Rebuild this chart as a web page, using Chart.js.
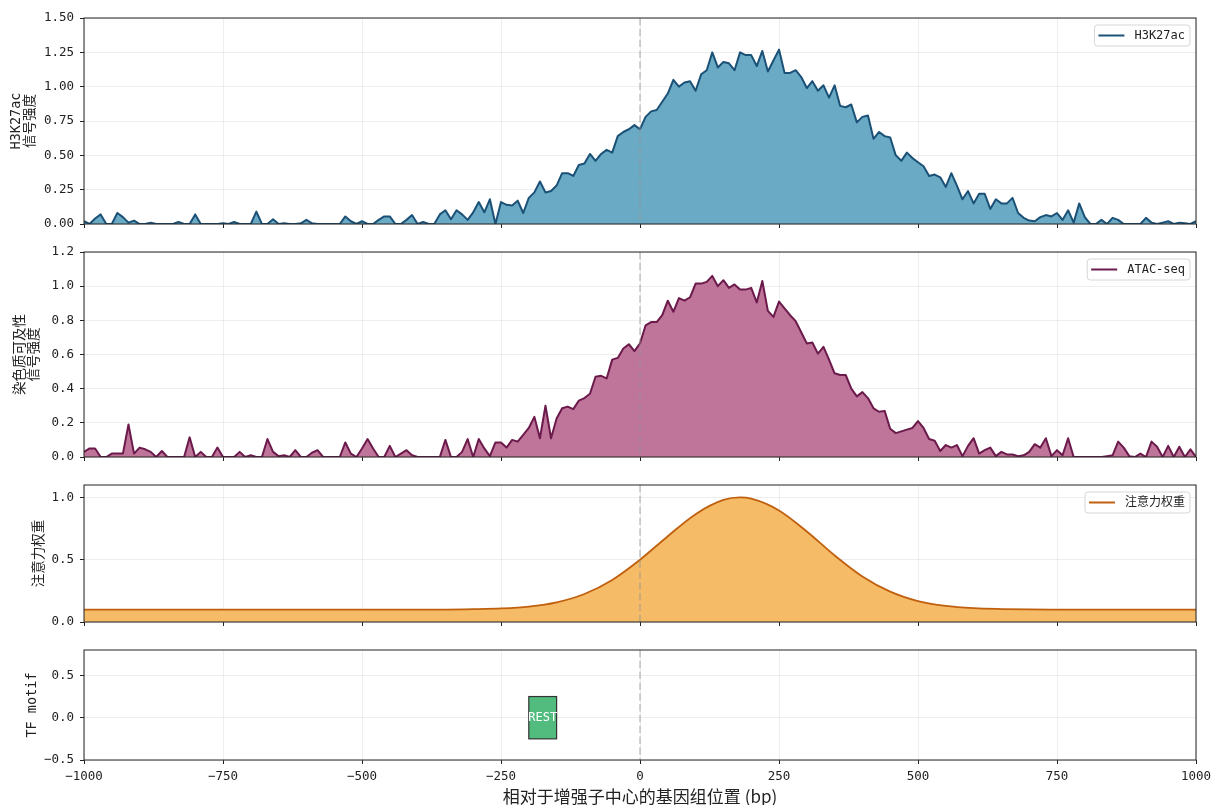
<!DOCTYPE html>
<html>
<head>
<meta charset="utf-8">
<script src="https://cdn.jsdelivr.net/npm/chart.js@4.4.0/dist/chart.umd.min.js"></script>
<style>
body { margin: 0; background: #fff; }
#wrap { position: relative; width: 1213px; height: 805px; background: #fff; }
canvas { position: absolute; left: 0; }
</style>
</head>
<body>
<div id="wrap">
  <canvas id="c1" width="1213" height="238" style="top:0px"></canvas>
  <canvas id="c2" width="1213" height="233" style="top:238px"></canvas>
  <canvas id="c3" width="1213" height="165" style="top:471px"></canvas>
  <canvas id="c4" width="1213" height="169" style="top:636px"></canvas>
</div>
<script>
// positions every 10 bp around the enhancer centre
const positions = Array.from({length: 201}, (_, i) => -1000 + i * 10);

const h3k27ac = [
  0.02, 0, 0.04, 0.07, 0, 0, 0.08, 0.05, 0.01, 0.025,
  0, 0, 0.01, 0, 0, 0, 0, 0.015, 0, 0,
  0.07, 0, 0, 0, 0, 0.005, 0, 0.015, 0, 0,
  0, 0.09, 0, 0, 0.035, 0, 0.005, 0, 0, 0.005,
  0.03, 0.005, 0, 0, 0, 0, 0, 0.055, 0.02, 0,
  0.02, 0, 0, 0.03, 0.055, 0.055, 0, 0, 0.03, 0.065,
  0, 0.015, 0, 0, 0.07, 0.1, 0.035, 0.1, 0.07, 0.03,
  0.085, 0.16, 0.085, 0.18, 0, 0.16, 0.14, 0.135, 0.17, 0.08,
  0.19, 0.23, 0.31, 0.23, 0.24, 0.28, 0.37, 0.37, 0.35, 0.43,
  0.44, 0.51, 0.46, 0.51, 0.54, 0.52, 0.64, 0.67, 0.69, 0.72,
  0.69, 0.78, 0.82, 0.83, 0.89, 0.95, 1.05, 1.0, 1.03, 1.04,
  0.97, 1.09, 1.12, 1.25, 1.14, 1.18, 1.17, 1.12, 1.25, 1.23,
  1.23, 1.15, 1.26, 1.11, 1.19, 1.27, 1.10, 1.10, 1.12, 1.07,
  0.99, 1.04, 0.97, 1.01, 0.92, 1.01, 0.86, 0.85, 0.87, 0.74,
  0.78, 0.79, 0.62, 0.67, 0.64, 0.63, 0.50, 0.46, 0.52, 0.48,
  0.45, 0.42, 0.35, 0.36, 0.34, 0.27, 0.37, 0.28, 0.18, 0.24,
  0.15, 0.22, 0.22, 0.11, 0.18, 0.15, 0.15, 0.19, 0.08, 0.045,
  0.025, 0.02, 0.05, 0.065, 0.055, 0.08, 0.03, 0.1, 0.01, 0.15,
  0.05, 0, 0, 0.03, 0, 0.045, 0.03, 0, 0, 0,
  0, 0.045, 0.01, 0, 0.01, 0.02, 0, 0.01, 0.005, 0, 0.02
];

const atac = [
  0.03, 0.05, 0.05, 0, 0, 0.02, 0.02, 0.02, 0.19, 0.02,
  0.055, 0.045, 0.03, 0, 0.035, 0, 0, 0, 0, 0.115,
  0, 0.03, 0, 0, 0.055, 0, 0, 0, 0.03, 0,
  0.01, 0, 0, 0.105, 0.03, 0.005, 0.01, 0, 0.04, 0,
  0, 0.025, 0.04, 0, 0, 0, 0, 0.085, 0.02, 0,
  0.05, 0.105, 0.05, 0, 0, 0.065, 0, 0.02, 0.04, 0.01,
  0, 0, 0, 0, 0, 0.1, 0, 0, 0.03, 0.105,
  0, 0.105, 0.05, 0.005, 0.085, 0.085, 0.055, 0.1, 0.09, 0.13,
  0.17, 0.235, 0.11, 0.3, 0.11, 0.225, 0.285, 0.295, 0.28, 0.33,
  0.345, 0.37, 0.47, 0.475, 0.46, 0.57, 0.58, 0.635, 0.66, 0.62,
  0.665, 0.77, 0.79, 0.79, 0.83, 0.915, 0.85, 0.93, 0.915, 0.935,
  1.015, 1.015, 1.025, 1.06, 1.0, 1.035, 0.99, 1.01, 0.98, 0.98,
  0.99, 0.905, 1.03, 0.855, 0.82, 0.91, 0.87, 0.83, 0.795, 0.73,
  0.665, 0.67, 0.605, 0.645, 0.57, 0.49, 0.48, 0.48, 0.40, 0.355,
  0.38, 0.345, 0.285, 0.265, 0.27, 0.165, 0.14, 0.15, 0.16, 0.17,
  0.21, 0.17, 0.105, 0.095, 0.035, 0.07, 0.055, 0.07, 0.005, 0.065,
  0.11, 0.02, 0.04, 0.055, 0.005, 0.03, 0.015, 0.015, 0.005, 0.01,
  0.03, 0.075, 0.055, 0.11, 0.005, 0.04, 0.01, 0.11, 0, 0,
  0, 0, 0, 0, 0.005, 0.01, 0.09, 0.055, 0.005, 0,
  0.02, 0, 0.09, 0.06, 0, 0.065, 0, 0.06, 0, 0.045, 0
];

// attention weight
const attnPositions = [-1000, -750, -500, -400, -350, -300, -250, -200, -150, -100, -50, 0, 50, 100, 150, 180, 200, 250, 300, 350, 400, 450, 500, 550, 600, 650, 700, 750, 1000];
const attnWeights = [0.10, 0.10, 0.10, 0.10, 0.10, 0.103, 0.109, 0.124, 0.158, 0.225, 0.338, 0.50, 0.689, 0.866, 0.98, 1.0, 0.99, 0.896, 0.727, 0.535, 0.366, 0.244, 0.168, 0.129, 0.111, 0.104, 0.101, 0.10, 0.10];

const motifNames = ['REST'];
const motifStart = [-200];
const motifEnd = [-150];

const xTicks = [-1000, -750, -500, -250, 0, 250, 500, 750, 1000];
const h3Ticks = [0, 0.25, 0.5, 0.75, 1.0, 1.25, 1.5];
const atacTicks = [0, 0.2, 0.4, 0.6, 0.8, 1.0, 1.2];
const attnTicks = [0, 0.5, 1.0];
const motifTicks = [-0.5, 0, 0.5];

const MONO = '"DejaVu Sans Mono", "Noto Sans CJK SC", monospace';
const GRID = 'rgba(176,176,176,0.22)';
const INK = '#222';

function fmt(v, d) {
  const s = Number(v).toFixed(d);
  return v < 0 ? '\u2212' + s.slice(1) : s;
}

const panelPlugin = {
  id: 'panel',
  afterDatasetsDraw(chart, args, opts) {
    const ctx = chart.ctx;
    const a = chart.chartArea;
    const sx = chart.scales.x, sy = chart.scales.y;
    ctx.save();

    // motif boxes
    (opts.motifs || []).forEach(m => {
      const x1 = sx.getPixelForValue(m.start), x2 = sx.getPixelForValue(m.end);
      const y1 = sy.getPixelForValue(0.25), y2 = sy.getPixelForValue(-0.25);
      ctx.fillStyle = '#52bc7f';
      ctx.fillRect(x1, y1, x2 - x1, y2 - y1);
      ctx.strokeStyle = '#333';
      ctx.lineWidth = 1.2;
      ctx.strokeRect(x1, y1, x2 - x1, y2 - y1);
      ctx.fillStyle = '#fff';
      ctx.font = '12px ' + MONO;
      ctx.textAlign = 'center';
      ctx.textBaseline = 'middle';
      ctx.fillText(m.name, (x1 + x2) / 2, sy.getPixelForValue(0));
    });

    // dashed line at the centre
    const x0 = sx.getPixelForValue(0);
    ctx.strokeStyle = 'rgba(150,150,150,0.55)';
    ctx.lineWidth = 1.5;
    ctx.setLineDash([7.5, 3.3]);
    ctx.beginPath();
    ctx.moveTo(x0, a.top);
    ctx.lineTo(x0, a.bottom);
    ctx.stroke();
    ctx.setLineDash([]);

    // frame
    ctx.strokeStyle = INK;
    ctx.lineWidth = 1;
    ctx.strokeRect(a.left, a.top, a.right - a.left, a.bottom - a.top);

    // legend inside the upper right corner
    if (opts.legend) {
      ctx.font = '12px ' + MONO;
      const tw = ctx.measureText(opts.legend.label).width;
      const w = 4 + 26 + 10 + tw + 5, h = 21;
      const bx = a.right - 6 - w, by = a.top + 7;
      ctx.fillStyle = 'rgba(255,255,255,0.85)';
      ctx.strokeStyle = '#d6d6d6';
      ctx.lineWidth = 1;
      ctx.beginPath();
      ctx.roundRect(bx, by, w, h, 3);
      ctx.fill();
      ctx.stroke();
      ctx.strokeStyle = opts.legend.color;
      ctx.lineWidth = 2;
      ctx.beginPath();
      ctx.moveTo(bx + 4, by + h / 2);
      ctx.lineTo(bx + 30, by + h / 2);
      ctx.stroke();
      ctx.fillStyle = INK;
      ctx.textAlign = 'left';
      ctx.textBaseline = 'middle';
      ctx.fillText(opts.legend.label, bx + 40, by + h / 2 + 0.5);
    }
    ctx.restore();
  }
};

function xScale(bottom) {
  return {
    type: 'linear', min: -1000, max: 1000,
    afterBuildTicks: s => { s.ticks = xTicks.map(v => ({value: v})); },
    grid: {color: GRID, tickColor: INK, tickLength: 4, drawTicks: true},
    border: {display: false},
    ticks: {display: bottom, autoSkip: false, maxRotation: 0, padding: 5,
            color: INK, font: {family: MONO, size: 12.5}, callback: v => fmt(v, 0)},
    title: bottom ? {display: true, text: '相对于增强子中心的基因组位置 (bp)', color: INK,
                     font: {family: '"Noto Sans CJK SC", "DejaVu Sans"', size: 17, lineHeight: 1},
                     padding: {top: 0, bottom: 0}} : {display: false},
    afterFit: s => {
      s.height = bottom ? 45 : 14;
      s.paddingLeft = 0;
      s.paddingRight = 0;
    }
  };
}

function yScale(min, max, ticks, dec, title, pad) {
  return {
    min: min, max: max,
    afterBuildTicks: s => { s.ticks = ticks.map(v => ({value: v})); },
    grid: {color: GRID, tickColor: INK, tickLength: 4, drawTicks: true},
    border: {display: false},
    ticks: {autoSkip: false, padding: 6, color: INK, font: {family: MONO, size: 12.5},
            callback: v => fmt(v, dec)},
    title: {display: true, text: title, color: INK,
            font: {family: MONO, size: 13.5, lineHeight: 1.0},
            padding: {top: pad, bottom: 0}},
    afterFit: s => {
      s.width = 84;
      s.paddingTop = 0;
      s.paddingBottom = 0;
    }
  };
}

function makePanel(id, datasets, y, bottom, topPad, extra) {
  return new Chart(document.getElementById(id), {
    type: 'line',
    data: {datasets: datasets},
    options: {
      responsive: false,
      animation: false,
      devicePixelRatio: 1,
      layout: {padding: {top: topPad, right: 17, left: 0, bottom: 0}},
      elements: {point: {radius: 0}},
      scales: {x: xScale(bottom), y: y},
      plugins: {legend: {display: false}, tooltip: {enabled: false}, panel: extra}
    },
    plugins: [panelPlugin]
  });
}

const h3Color = '#1b5176';
makePanel('c1', [{
  data: positions.map((x, i) => ({x: x, y: h3k27ac[i]})),
  borderColor: h3Color, borderWidth: 2, borderJoinStyle: 'round',
  backgroundColor: 'rgba(106,170,197,1)', fill: 'origin', tension: 0
}], yScale(0, 1.5, h3Ticks, 2, ['H3K27ac', '信号强度'], 10), false, 18,
  {legend: {label: 'H3K27ac', color: h3Color}});

const atacColor = '#6b1a4b';
makePanel('c2', [{
  data: positions.map((x, i) => ({x: x, y: atac[i]})),
  borderColor: atacColor, borderWidth: 2, borderJoinStyle: 'round',
  backgroundColor: 'rgba(190,117,153,1)', fill: 'origin', tension: 0
}], yScale(0, 1.2, atacTicks, 1, ['染色质可及性', '信号强度'], 14), false, 14,
  {legend: {label: 'ATAC-seq', color: atacColor}});

const attnColor = '#c0600e';
makePanel('c3', [{
  data: attnPositions.map((x, i) => ({x: x, y: attnWeights[i]})),
  borderColor: attnColor, borderWidth: 1.8,
  backgroundColor: 'rgba(245,187,102,1)', fill: 'origin', cubicInterpolationMode: 'monotone'
}], yScale(0, 1.1, attnTicks, 1, '注意力权重', 33), false, 14,
  {legend: {label: '注意力权重', color: attnColor}});

makePanel('c4', [], yScale(-0.5, 0.8, motifTicks, 1, 'TF motif', 26), true, 14,
  {motifs: motifNames.map((n, i) => ({name: n, start: motifStart[i], end: motifEnd[i]}))});
</script>
</body>
</html>
